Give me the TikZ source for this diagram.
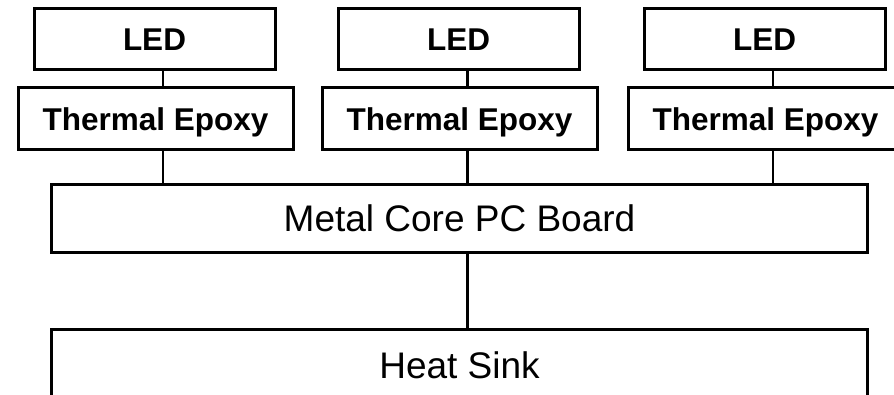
\documentclass[tikz,border=0pt]{standalone}
\usepackage{fontspec}
\setmainfont{Liberation Sans}
\usetikzlibrary{positioning}
\tikzset{
  ledbox/.style={draw=black, line width=3pt, inner sep=0pt, outer sep=0pt, minimum width=241pt, minimum height=61pt, font=\fontsize{31.5}{36}\selectfont\bfseries},
  epoxybox/.style={ledbox, minimum width=275pt, minimum height=62pt, text depth=0pt},
  basebox/.style={draw=black, line width=3pt, inner sep=0pt, outer sep=0pt, minimum width=816pt, font=\fontsize{37}{42}\selectfont},
  link/.style={draw=black, line width=2.6pt},
}

\begin{document}
\begin{tikzpicture}[node distance=18pt and 63pt]
  \clip (0,0) rectangle (894pt,394pt);
  % three emitters, each on its own epoxy pad
  \node[ledbox] (led1) at (154.5pt,354.5pt) {LED};
  \node[ledbox, right=of led1] (led2) {LED};
  \node[ledbox, right=65pt of led2] (led3) {LED};
  \node[epoxybox, below=of led1, xshift=1pt] (ep1) {Thermal Epoxy};
  \node[epoxybox, below=of led2, xshift=1pt] (ep2) {Thermal Epoxy};
  \node[epoxybox, below=of led3, xshift=1pt] (ep3) {Thermal Epoxy};
  \node[basebox, minimum height=67pt, below=35pt of ep2] (board) {Metal Core PC Board};
  \node[basebox, minimum height=72pt, below=77pt of board] (sink) {Heat Sink};
  \draw[link] ([xshift=8.5pt]led1.south) -- ([xshift=8.5pt]led1.south |- ep1.north);
  \draw[link] ([xshift=9pt]led2.south) -- ([xshift=9pt]led2.south |- ep2.north);
  \draw[link] ([xshift=8.5pt]led3.south) -- ([xshift=8.5pt]led3.south |- ep3.north);
  \draw[link] ([xshift=7.5pt]ep1.south) -- ([xshift=7.5pt]ep1.south |- board.north);
  \draw[link] ([xshift=8pt]ep2.south) -- ([xshift=8pt]ep2.south |- board.north);
  \draw[link] ([xshift=7.5pt]ep3.south) -- ([xshift=7.5pt]ep3.south |- board.north);
  \draw[link] ([xshift=8pt]board.south) -- ([xshift=8pt]board.south |- sink.north);
\end{tikzpicture}
\end{document}
